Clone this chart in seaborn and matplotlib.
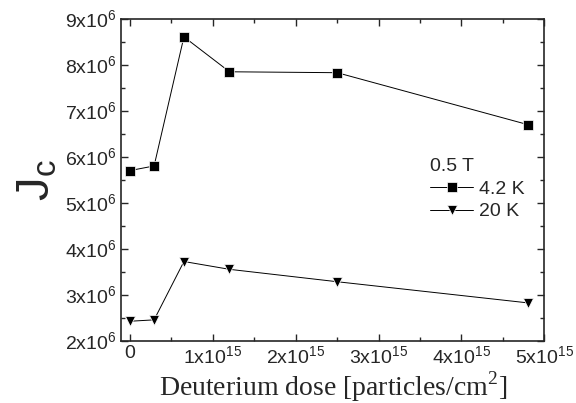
import matplotlib
matplotlib.use("Agg")
import matplotlib.pyplot as plt
from matplotlib.ticker import MultipleLocator, FuncFormatter
import pandas as pd
import seaborn as sns

dose = [0.0, 0.29e15, 0.65e15, 1.2e15, 2.5e15, 4.8e15]
jc_42K = [5.70e6, 5.80e6, 8.61e6, 7.85e6, 7.83e6, 6.70e6]
jc_20K = [2.42e6, 2.45e6, 3.72e6, 3.55e6, 3.28e6, 2.82e6]
series = ["4.2 K", "20 K"]

df = pd.DataFrame({
    "dose": dose * 2,
    "jc": jc_42K + jc_20K,
    "T": [series[0]] * len(dose) + [series[1]] * len(dose),
})

sns.set_style("ticks")
plt.rcParams['font.family'] = ['Liberation Sans', 'DejaVu Sans']

fig, ax = plt.subplots(figsize=(5.76, 4.03), dpi=100)
sns.lineplot(data=df, x="dose", y="jc", hue="T", style="T",
             markers={"4.2 K": "s", "20 K": "v"}, dashes=False,
             palette={"4.2 K": "black", "20 K": "black"},
             linewidth=0.7, markersize=7.5, markeredgecolor="white",
             markeredgewidth=0.5, ax=ax)

ax.set_xlim(-0.11e15, 5e15)
ax.set_ylim(2e6, 9e6)
ax.xaxis.set_major_locator(MultipleLocator(1e15))
ax.xaxis.set_minor_locator(MultipleLocator(0.5e15))
ax.yaxis.set_major_locator(MultipleLocator(1e6))
ax.yaxis.set_minor_locator(MultipleLocator(0.5e6))

def xfmt(v, pos):
    n = int(round(v / 1e15))
    return "0" if n == 0 else r"%dx10$^{\mathregular{15}}$" % n

def yfmt(v, pos):
    n = int(round(v / 1e6))
    return r"%dx10$^{\mathregular{6}}$" % n

ax.xaxis.set_major_formatter(FuncFormatter(xfmt))
ax.yaxis.set_major_formatter(FuncFormatter(yfmt))
ax.tick_params(which="both", direction="in", top=True, right=True,
               labeltop=False, labelright=False, labelsize=14, width=1)
ax.tick_params(which="major", length=5)
ax.tick_params(which="minor", length=3)
for s in ax.spines.values():
    s.set_linewidth(1.2)

ax.set_xlabel("Deuterium dose [particles/cm$^{\\mathregular{2}}$]",
              family=["Liberation Serif"], fontsize=20, labelpad=1)
ax.set_ylabel("J$_{\\mathregular{c}}$", fontsize=34, labelpad=4)

leg = ax.legend(title="0.5 T", frameon=False, loc="center right",
                bbox_to_anchor=(0.995, 0.47), fontsize=14, title_fontsize=14,
                handlelength=2.2, handletextpad=0.3, labelspacing=0.25)
leg._legend_box.align = "left"

fig.subplots_adjust(left=0.21, right=0.945, bottom=0.155, top=0.953)
fig.savefig("out.png", dpi=100)
